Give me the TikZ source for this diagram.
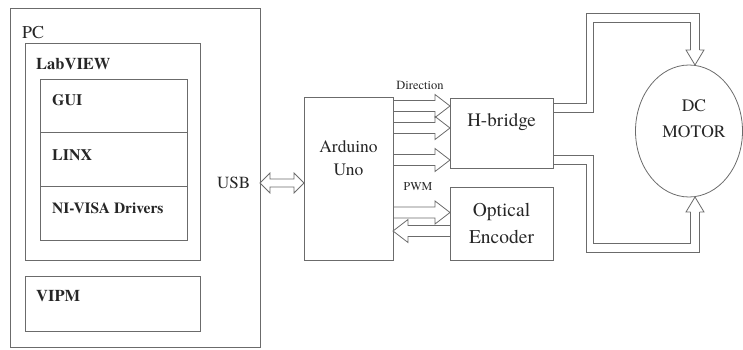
\documentclass[tikz,border=0pt]{standalone}
\usepackage{fontspec}
\setmainfont{TeX Gyre Termes}
\usetikzlibrary{calc,shapes.geometric}
\definecolor{lncol}{gray}{0.42}
\definecolor{txcol}{gray}{0.15}
\tikzset{
  line/.style={draw=lncol, line width=0.8pt},
  box/.style={line, rectangle, anchor=north west, inner sep=0pt, outer sep=0pt},
  lbl/.style={text=txcol, inner sep=0pt, anchor=west},
  ctr/.style={text=txcol, inner sep=0pt, align=center},
  rline/.style={draw=lncol, line width=0.8pt, line join=miter},
  barrow/.style n args={3}{line, line join=miter, to path={
     let \p1=(\tikztostart), \p2=(\tikztotarget), \n1={atan2(\y2-\y1,\x2-\x1)} in
     ($(\p1)+({\n1+90}:#1)$) -- ($(\p2)+({\n1+180}:#3)+({\n1+90}:#1)$)
     -- ($(\p2)+({\n1+180}:#3)+({\n1+90}:#2)$) -- (\p2)
     -- ($(\p2)+({\n1+180}:#3)+({\n1-90}:#2)$) -- ($(\p2)+({\n1+180}:#3)+({\n1-90}:#1)$)
     -- ($(\p1)+({\n1-90}:#1)$)}},
  dbarrow/.style n args={3}{line, line join=miter, to path={
     let \p1=(\tikztostart), \p2=(\tikztotarget), \n1={atan2(\y2-\y1,\x2-\x1)} in
     ($(\p1)+({\n1}:#3)+({\n1+90}:#1)$) -- ($(\p2)+({\n1+180}:#3)+({\n1+90}:#1)$)
     -- ($(\p2)+({\n1+180}:#3)+({\n1+90}:#2)$) -- (\p2)
     -- ($(\p2)+({\n1+180}:#3)+({\n1-90}:#2)$) -- ($(\p2)+({\n1+180}:#3)+({\n1-90}:#1)$)
     -- ($(\p1)+({\n1}:#3)+({\n1-90}:#1)$) -- ($(\p1)+({\n1}:#3)+({\n1-90}:#2)$)
     -- (\p1) -- ($(\p1)+({\n1}:#3)+({\n1+90}:#2)$) -- cycle}},
}
\begin{document}
\begin{tikzpicture}[x=1pt,y=-1pt]
\useasboundingbox (0,0) rectangle (743,350);
% boxes
\node[box, minimum width=250pt, minimum height=339pt] (pc) at (10,8) {};
\node[box, minimum width=175pt, minimum height=217pt] (lab) at (25,43) {};
\node[box, minimum width=147pt, minimum height=53pt] (gui) at (40,79) {};
\node[box, minimum width=147pt, minimum height=54pt] (linx) at (40,132) {};
\node[box, minimum width=147pt, minimum height=54pt] (visa) at (40,186) {};
\node[box, minimum width=175pt, minimum height=55pt] (vipm) at (25,276) {};
\node[box, minimum width=89pt, minimum height=163pt] (ard) at (304,97) {};
\node[box, minimum width=103pt, minimum height=70pt] (hb) at (450,98) {};
\node[box, minimum width=103pt, minimum height=73pt] (enc) at (450,187) {};
\node[line, ellipse, inner sep=0pt, outer sep=0pt, minimum width=107pt, minimum height=132pt] (motor) at (689,131) {};
% labels
\node[lbl, font=\fontsize{18}{20}\selectfont] (pcl) at (22,33) {PC};
\node[lbl, font=\fontsize{16.5}{18}\selectfont\bfseries] (labl) at (36,64) {LabVIEW};
\node[lbl, font=\fontsize{16}{18}\selectfont\bfseries] (guil) at (52,100) {GUI};
\node[lbl, font=\fontsize{16}{18}\selectfont\bfseries] (linxl) at (52,155) {LINX};
\node[lbl, font=\fontsize{15.5}{18}\selectfont\bfseries] (visal) at (52,208) {NI-VISA Drivers};
\node[lbl, font=\fontsize{16.5}{18}\selectfont\bfseries] (vipml) at (36,296) {VIPM};
\node[lbl, font=\fontsize{17}{19}\selectfont] (usbl) at (217,183) {USB};
\node[ctr, font=\fontsize{17.5}{23}\selectfont] (ardl) at (348.5,158.5) {Arduino\\Uno};
\node[text=txcol, inner sep=0pt, anchor=base, font=\fontsize{19}{22}\selectfont] (hbl) at (501.5,126.3) {H-bridge};
\node[ctr, font=\fontsize{19.5}{27}\selectfont] (encl) at (501.5,223.5) {Optical\\Encoder};
\node[ctr, font=\fontsize{17.5}{26}\selectfont] (motl) at (694,119) {DC\\MOTOR};
\node[ctr, font=\fontsize{12.5}{14}\selectfont] (dirl) at (420,85) {Direction};
\node[ctr, font=\fontsize{12}{14}\selectfont] (pwml) at (418,187) {PWM};
% level coordinates
\coordinate (d1) at (0,106);
\coordinate (d2) at (0,128);
\coordinate (d3) at (0,160);
\coordinate (p1) at (0,212.5);
\coordinate (p2) at (0,231);
\coordinate (usb) at (0,183);
\coordinate (mt) at (motor.north -| 695,0);
\coordinate (mb) at (motor.south -| 695,0);
\coordinate (mt0) at ($(mt)+(0,-15)$);
\coordinate (mb0) at ($(mb)+(0,15)$);
% routed connector corners (top: outer / inner)
\coordinate (to1) at (586,103);   \coordinate (to2) at (586,13);
\coordinate (to3) at (699.5,13);  \coordinate (to4) at ($(mt0)+(4.5,0)$);
\coordinate (ti1) at (593,112);   \coordinate (ti2) at (593,22);
\coordinate (ti3) at (690.5,22);  \coordinate (ti4) at ($(mt0)+(-4.5,0)$);
% bottom: inner (upper) / outer (lower)
\coordinate (bi1) at (593,155.5); \coordinate (bi2) at (593,243.5);
\coordinate (bi3) at (690.5,243.5); \coordinate (bi4) at ($(mb0)+(-4.5,0)$);
\coordinate (bo1) at (586,164.5); \coordinate (bo2) at (586,252.5);
\coordinate (bo3) at (699.5,252.5); \coordinate (bo4) at ($(mb0)+(4.5,0)$);
% connectors
\draw[rline] (hb.east |- to1) -- (to1) -- (to2) -- (to3) -- (to4);
\draw[rline] (hb.east |- ti1) -- (ti1) -- (ti2) -- (ti3) -- (ti4);
\draw[rline] (hb.east |- bi1) -- (bi1) -- (bi2) -- (bi3) -- (bi4);
\draw[rline] (hb.east |- bo1) -- (bo1) -- (bo2) -- (bo3) -- (bo4);
\draw[barrow={4.5pt}{9pt}{15pt}] (mt0) to (mt);
\draw[barrow={4.5pt}{9pt}{15pt}] (mb0) to (mb);
\draw[dbarrow={4pt}{10pt}{10pt}] (pc.east |- usb) to (ard.west |- usb);
\draw[barrow={5.5pt}{11.5pt}{15pt}] (ard.east |- d1) to (hb.west |- d1);
\draw[barrow={5.5pt}{11.5pt}{15pt}] (ard.east |- d2) to (hb.west |- d2);
\draw[barrow={5.5pt}{11.5pt}{15pt}] (ard.east |- d3) to (hb.west |- d3);
\draw[barrow={5.5pt}{11.5pt}{15pt}] (ard.east |- p1) to (enc.west |- p1);
\draw[barrow={5.5pt}{11.5pt}{15pt}] (enc.west |- p2) to (ard.east |- p2);
\end{tikzpicture}
\end{document}
